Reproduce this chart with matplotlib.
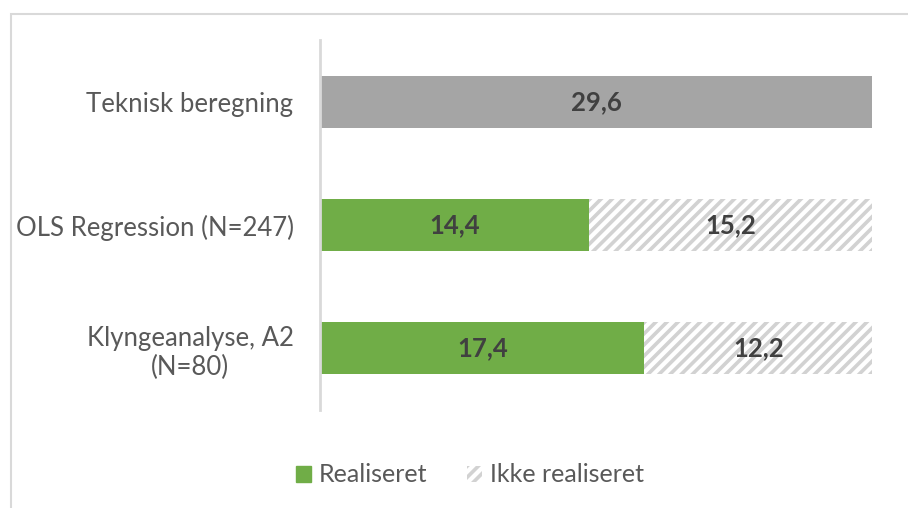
import matplotlib.pyplot as plt
from matplotlib.patches import Rectangle, Patch

plt.rcParams['font.family'] = ['Lato', 'DejaVu Sans']
plt.rcParams['hatch.linewidth'] = 2.6

categories = ["Klyngeanalyse, A2\n(N=80)", "OLS Regression (N=247)", "Teknisk beregning"]
teknisk = [0, 0, 29.6]
realiseret = [17.4, 14.4, 0]
ikke_realiseret = [12.2, 15.2, 0]

GREEN = '#70AD47'
GRAY = '#A5A5A5'
HATCH = '#D2D2D2'
TEXT = '#595959'
LABEL = '#404040'

fig = plt.figure(figsize=(9.08, 5.08), dpi=100)

# outer chart border (cut by the image edge on the right and bottom)
fig.patches.append(Rectangle((11 / 908, -0.1), 1.2, 1.1 - 14 / 508,
                             transform=fig.transFigure, fill=False,
                             edgecolor='#D9D9D9', linewidth=1.5))

ax = fig.add_axes([320 / 908, 1 - 410 / 508, 552 / 908, 370 / 508])
y = range(len(categories))
h = 0.42

ax.barh(y, teknisk, height=h, color=GRAY)
ax.barh(y, realiseret, height=h, color=GREEN)
ax.barh(y, ikke_realiseret, height=h, left=realiseret, color='white',
        edgecolor=HATCH, hatch='///', linewidth=0)


def fmt(v):
    return f"{v:.1f}".replace('.', ',')


for i in y:
    if teknisk[i]:
        ax.text(teknisk[i] / 2, i, fmt(teknisk[i]), ha='center', va='center',
                fontsize=18.5, fontweight='bold', color=LABEL)
    if realiseret[i]:
        ax.text(realiseret[i] / 2, i, fmt(realiseret[i]), ha='center', va='center',
                fontsize=18.5, fontweight='bold', color=LABEL)
    if ikke_realiseret[i]:
        ax.text(realiseret[i] + ikke_realiseret[i] / 2, i, fmt(ikke_realiseret[i]),
                ha='center', va='center', fontsize=18.5, fontweight='bold', color=LABEL)

ax.set_xlim(0, 29.6)
ax.set_ylim(-0.5, 2.5)
ax.set_yticks(list(y))
ax.set_yticklabels(categories, fontsize=18.5, color=TEXT, multialignment='center',
                   linespacing=1.2)
ax.tick_params(axis='y', length=0, pad=19)
ax.set_xticks([])
for s in ['top', 'right', 'bottom']:
    ax.spines[s].set_visible(False)
ax.spines['left'].set_color('#D9D9D9')
ax.spines['left'].set_linewidth(2)

handles = [Patch(facecolor=GREEN, edgecolor=GREEN, label='Realiseret'),
           Patch(facecolor='white', edgecolor=HATCH, hatch='///', linewidth=0,
                 label='Ikke realiseret')]
fig.legend(handles=handles, loc='center', bbox_to_anchor=(470 / 908, 1 - 475 / 508),
           ncol=2, frameon=False, fontsize=18, labelcolor=TEXT,
           handlelength=0.6, handleheight=0.6, handletextpad=0.3, columnspacing=1.6)

fig.savefig('out.png', dpi=100)
